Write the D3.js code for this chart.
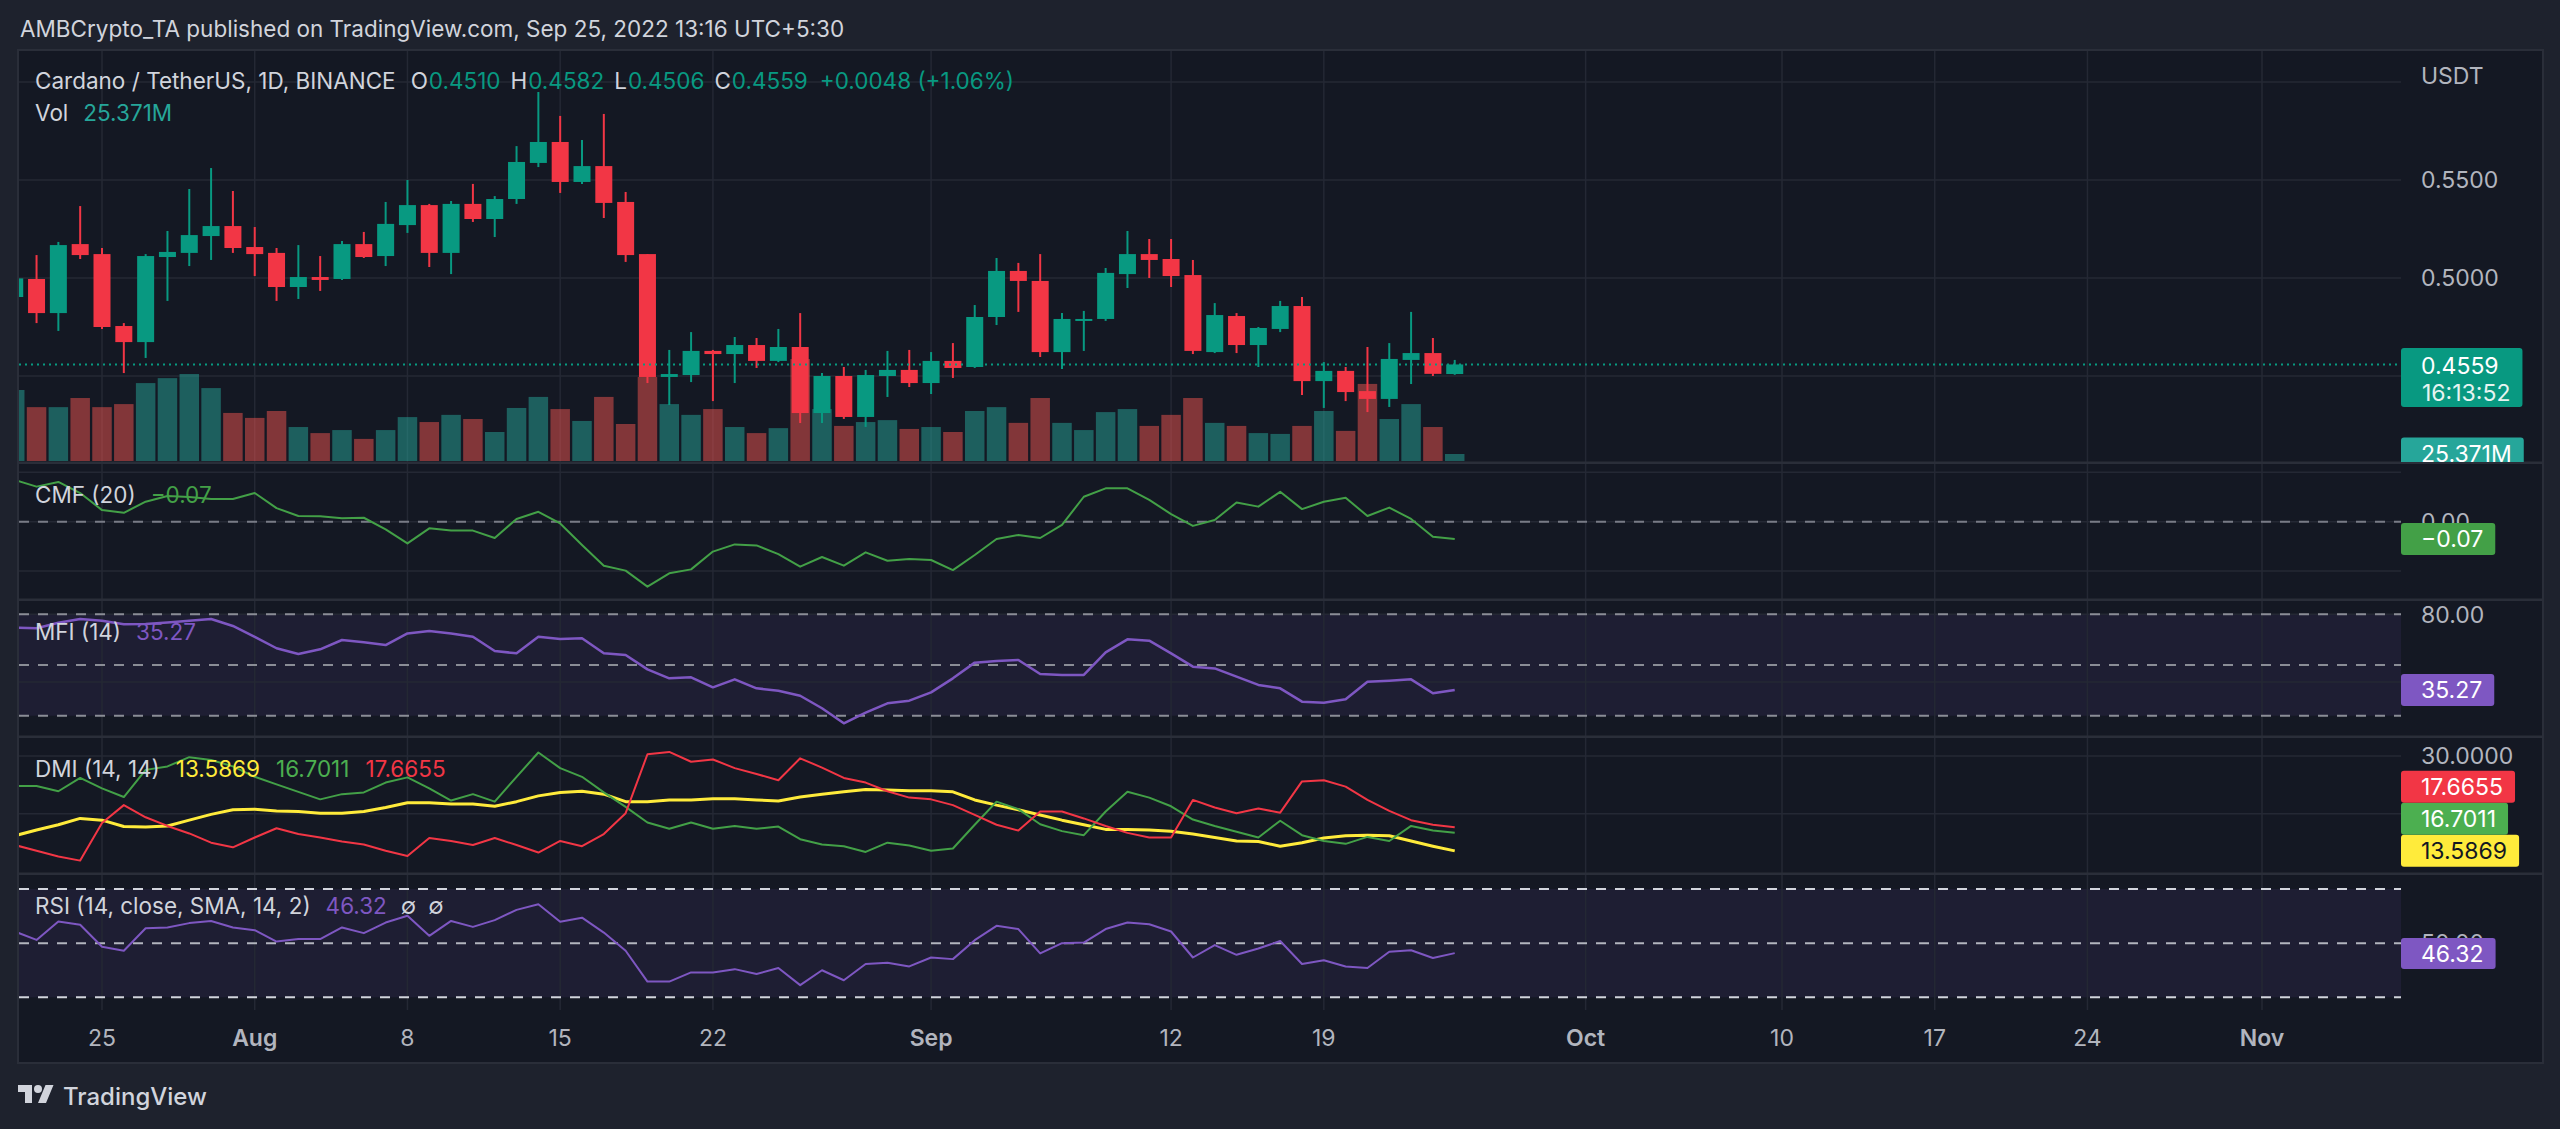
<!DOCTYPE html>
<html><head><meta charset="utf-8">
<script src="https://cdn.jsdelivr.net/npm/d3@7"></script>
<style>
html,body{margin:0;padding:0;background:#1e222d;overflow:hidden}
svg{display:block}
text{font-family:Inter,"Noto Sans","DejaVu Sans",sans-serif}
</style>
</head><body>
<svg id="c" width="2560" height="1129"></svg>
<script>
// ---------------- DATA ----------------
const startDate = "2022-07-21"; // first (partially visible) daily candle
const opens  = [0.4903,0.4995,0.4821,0.5173,0.5122,0.4755,0.4673,0.5107,0.5128,0.5214,0.5265,0.5158,0.5128,0.4954,0.5005,0.4995,0.5173,0.5112,0.5270,0.5372,0.5128,0.5378,0.5301,0.5403,0.5587,0.5694,0.5490,0.5571,0.5388,0.5122,0.4495,0.4505,0.4628,0.4612,0.4658,0.4577,0.4648,0.4311,0.4500,0.4291,0.4500,0.4531,0.4464,0.4577,0.4546,0.4801,0.5036,0.4985,0.4622,0.4786,0.4791,0.5020,0.5122,0.5097,0.5015,0.4622,0.4806,0.4658,0.4740,0.4857,0.4474,0.4526,0.4423,0.4383,0.4582,0.4617,0.4510];
const highs  = [0.5030,0.5117,0.5184,0.5367,0.5153,0.4770,0.5122,0.5240,0.5454,0.5561,0.5444,0.5260,0.5153,0.5168,0.5112,0.5189,0.5235,0.5388,0.5500,0.5378,0.5393,0.5480,0.5418,0.5673,0.5949,0.5827,0.5704,0.5837,0.5439,0.5122,0.4633,0.4724,0.4633,0.4699,0.4694,0.4740,0.4821,0.4515,0.4546,0.4531,0.4628,0.4633,0.4622,0.4668,0.4862,0.5102,0.5077,0.5122,0.4821,0.4832,0.5051,0.5240,0.5199,0.5199,0.5092,0.4872,0.4821,0.4750,0.4883,0.4903,0.4571,0.4546,0.4648,0.4668,0.4827,0.4694,0.4582];
const lows   = [0.4880,0.4770,0.4730,0.5097,0.4740,0.4515,0.4592,0.4883,0.5061,0.5092,0.5128,0.5010,0.4883,0.4893,0.4934,0.4990,0.5102,0.5061,0.5230,0.5056,0.5020,0.5286,0.5209,0.5378,0.5566,0.5434,0.5480,0.5306,0.5082,0.4464,0.4352,0.4469,0.4372,0.4464,0.4541,0.4571,0.4260,0.4260,0.4281,0.4240,0.4393,0.4444,0.4408,0.4490,0.4541,0.4760,0.4827,0.4597,0.4536,0.4628,0.4781,0.4949,0.5000,0.4954,0.4612,0.4617,0.4617,0.4546,0.4724,0.4403,0.4337,0.4372,0.4316,0.4342,0.4459,0.4500,0.4506];
const closes = [0.4998,0.4821,0.5168,0.5117,0.4750,0.4673,0.5112,0.5133,0.5219,0.5265,0.5153,0.5122,0.4954,0.5005,0.4990,0.5173,0.5107,0.5276,0.5372,0.5128,0.5378,0.5301,0.5403,0.5592,0.5694,0.5490,0.5571,0.5383,0.5117,0.4495,0.4510,0.4628,0.4612,0.4658,0.4577,0.4648,0.4311,0.4500,0.4291,0.4505,0.4531,0.4464,0.4577,0.4541,0.4801,0.5036,0.4985,0.4622,0.4791,0.4791,0.5026,0.5122,0.5092,0.5010,0.4628,0.4811,0.4658,0.4745,0.4857,0.4474,0.4526,0.4418,0.4383,0.4587,0.4617,0.4511,0.4559];
// volume in millions USDT
const volumes = [257,195,195,228,195,206,282,300,315,264,174,156,181,123,101,112,80,112,159,141,167,152,105,192,232,188,145,232,134,304,206,167,188,123,101,119,369,188,127,141,148,116,123,105,181,195,138,228,138,112,177,188,127,167,228,138,127,101,98,127,181,109,279,152,206,123,25.371];
const cmf = [0.169,0.142,0.161,0.116,0.047,0.036,0.081,0.104,0.100,0.092,0.092,0.116,0.055,0.023,0.022,0.014,0.016,-0.031,-0.088,-0.027,-0.036,-0.036,-0.066,0.011,0.040,-0.007,-0.094,-0.178,-0.198,-0.263,-0.209,-0.193,-0.121,-0.092,-0.096,-0.131,-0.182,-0.143,-0.178,-0.124,-0.158,-0.151,-0.155,-0.196,-0.135,-0.070,-0.054,-0.066,-0.013,0.101,0.135,0.135,0.088,0.031,-0.017,0.007,0.078,0.061,0.121,0.051,0.081,0.097,0.023,0.057,0.011,-0.061,-0.0700];
const mfi = [72.1,71.7,75.0,77.2,76.2,74.1,74.3,75.2,76.2,77.2,73.1,66.7,59.9,56.5,59.3,64.8,63.4,61.8,68.7,70.1,68.7,66.7,58.3,56.9,66.7,65.4,65.8,56.9,55.9,47.4,42.1,42.7,36.8,41.5,36.2,34.8,31.8,24.4,15.5,21.8,27.3,28.9,33.8,42.1,51.4,52.4,53.0,44.7,44.1,44.1,57.5,65.2,64.4,56.9,49.0,48.0,43.1,38.2,36.2,28.3,27.7,29.7,40.1,40.7,41.5,33.3,35.27];
const plusDI = [24.8,24.8,23.9,26.2,24.4,22.9,27.6,28.2,29.8,29.3,28.2,26.4,25.1,23.8,22.5,23.4,23.7,25.4,26.3,24.4,22.3,23.4,22.1,26.4,30.6,27.9,26.4,23.7,21.2,18.5,17.4,18.5,17.4,17.9,17.4,17.8,15.6,14.7,14.4,13.4,15.0,14.5,13.6,14.0,18.1,22.1,20.8,18.2,17.0,16.3,20.4,23.8,22.8,21.3,19.0,17.9,16.9,15.9,18.8,16.3,15.3,14.8,16.0,15.3,17.9,17.1,16.7011];
const minusDI = [14.6,13.6,12.6,11.9,18.4,21.5,19.4,17.9,16.6,15.0,14.2,15.9,17.5,16.5,15.9,15.2,14.7,13.6,12.7,15.8,15.3,14.6,15.8,14.6,13.3,15.3,14.4,16.5,20.1,30.3,30.7,29.0,29.4,27.9,26.9,25.8,29.6,28.0,26.2,25.4,23.9,22.8,22.5,21.5,19.8,18.1,17.1,20.4,20.4,19.2,17.9,16.7,15.9,15.9,22.4,21.1,20.1,20.9,20.2,25.6,25.8,24.7,22.4,20.5,18.9,18.1,17.6655];
const adx = [16.2,17.2,18.1,19.2,18.9,17.8,17.7,17.9,18.9,19.9,20.7,20.8,20.5,20.4,20.1,20.1,20.4,21.1,21.9,21.9,21.7,21.7,21.3,22.1,23.1,23.7,23.9,23.4,22.1,22.1,22.4,22.4,22.6,22.6,22.4,22.2,22.9,23.4,23.8,24.2,24.1,24.0,24.0,23.8,22.4,21.5,20.7,19.8,18.9,18.1,17.3,17.3,17.2,17.0,16.5,15.9,15.3,15.2,14.4,15.0,15.8,16.2,16.3,16.2,15.3,14.4,13.5869];
const rsi = [54.3,51.2,58.0,56.8,48.7,47.2,55.5,55.8,57.4,58.2,55.8,54.8,50.6,51.5,51.5,55.8,53.7,57.6,60.1,52.7,58.2,56.0,58.5,62.3,64.4,57.9,59.4,53.9,47.2,35.8,35.8,39.2,39.2,40.4,38.6,40.8,34.5,40.0,36.3,42.3,42.8,41.4,44.7,44.1,51.1,56.4,55.2,46.2,50.0,50.2,55.2,57.6,57.0,54.3,44.7,49.3,45.7,48.0,50.8,42.3,43.7,41.4,40.8,46.8,47.4,44.5,46.32];
const tickDates  = ["2022-07-25","2022-08-01","2022-08-08","2022-08-15","2022-08-22","2022-09-01","2022-09-12","2022-09-19","2022-10-01","2022-10-10","2022-10-17","2022-10-24","2022-11-01"];
const tickLabels = ["25","Aug","8","15","22","Sep","12","19","Oct","10","17","24","Nov"];
const priceGrid  = [0.45,0.50,0.55,0.60];
const priceTicks = [0.55,0.50];
const cmfGrid = [0.2,0,-0.2];
const mfiGrid = [40,80];
const dmiGrid = [20,30];

// ---------------- LAYOUT ----------------
const svg = d3.select("#c");
const plotL=19, plotR=2401, axisR=2542, frameT=51, frameB=1062;
const panes = {main:[51,462], cmf:[464,599], mfi:[601,736], dmi:[738,873], rsi:[875,1010]};
const C = {bg:"#141823", outer:"#1e222d", grid:"#242834", border:"#2a2e39", text:"#d1d4dc", axis:"#b2b5be",
  up:"#089981", down:"#f23645", volUp:"#26a69a", volDown:"#ef5350", green:"#43a047", green2:"#4caf50",
  purple:"#7e57c2", yellow:"#ffeb3b", red:"#f23645"};

const parse = d3.utcParse("%Y-%m-%d");
const start = parse(startDate);
const dates = opens.map((_,i)=>d3.utcDay.offset(start,i));
const x = d3.scaleUtc().domain([parse("2022-07-25"), parse("2022-11-01")]).range([102,2262]);
const yP = d3.scaleLinear().domain([0.45,0.55]).range([376,180]);
const yV = d3.scaleLinear().domain([0,400]).range([461,350.5]);
const yC = d3.scaleLinear().domain([-0.2,0.2]).range([571.1,472.3]);
const yM = d3.scaleLinear().domain([20,80]).range([715.7,614.3]);
const yD = d3.scaleLinear().domain([20,30]).range([813.8,756]);
const yR = d3.scaleLinear().domain([30,70]).range([997.3,889]);

// backgrounds
svg.append("rect").attr("width",2560).attr("height",1129).attr("fill",C.outer);
svg.append("rect").attr("x",plotL-1).attr("y",frameT-1).attr("width",axisR-plotL+2).attr("height",frameB-frameT+2)
  .attr("fill",C.bg).attr("stroke",C.border).attr("stroke-width",2);

// clip paths
const defs = svg.append("defs");
Object.entries(panes).forEach(([k,[t,b]])=>{
  defs.append("clipPath").attr("id","clip-"+k).append("rect").attr("x",plotL).attr("y",t).attr("width",plotR-plotL).attr("height",b-t);
});
defs.append("clipPath").attr("id","clip-mainaxis").append("rect").attr("x",plotR).attr("y",panes.main[0]).attr("width",axisR-plotR).attr("height",panes.main[1]-panes.main[0]);

// band fills
const gBand = svg.append("g");
gBand.append("rect").attr("x",plotL).attr("width",plotR-plotL).attr("y",yM(80)).attr("height",yM(20)-yM(80)).attr("fill",C.purple).attr("fill-opacity",0.1);
gBand.append("rect").attr("x",plotL).attr("width",plotR-plotL).attr("y",yR(70)).attr("height",yR(30)-yR(70)).attr("fill",C.purple).attr("fill-opacity",0.1);

// vertical grid
const gGrid = svg.append("g").attr("stroke",C.grid).attr("stroke-width",1.5);
tickDates.forEach(d=>{
  const xx = x(parse(d));
  gGrid.append("line").attr("x1",xx).attr("x2",xx).attr("y1",frameT).attr("y2",1010);
});
// horizontal grids
priceGrid.forEach(v=>gGrid.append("line").attr("x1",plotL).attr("x2",plotR).attr("y1",yP(v)).attr("y2",yP(v)));
cmfGrid.forEach(v=>gGrid.append("line").attr("x1",plotL).attr("x2",plotR).attr("y1",yC(v)).attr("y2",yC(v)));
mfiGrid.forEach(v=>gGrid.append("line").attr("x1",plotL).attr("x2",plotR).attr("y1",yM(v)).attr("y2",yM(v)));
dmiGrid.forEach(v=>gGrid.append("line").attr("x1",plotL).attr("x2",plotR).attr("y1",yD(v)).attr("y2",yD(v)));

// pane dividers
[462.5, 599.5, 736.5, 873.5].forEach(y=>{
  svg.append("rect").attr("x",plotL).attr("y",y-1).attr("width",axisR-plotL).attr("height",2.5).attr("fill",C.border);
});

// ---------------- MAIN PANE ----------------
const gMain = svg.append("g").attr("clip-path","url(#clip-main)");
// volume
gMain.selectAll("rect.vol").data(volumes).join("rect").attr("class","vol")
  .attr("x",(d,i)=>x(dates[i])-9.75).attr("width",19.5)
  .attr("y",d=>yV(d)).attr("height",d=>yV(0)-yV(d))
  .attr("fill",(d,i)=>closes[i]>=opens[i]?C.volUp:C.volDown).attr("fill-opacity",0.5);
// candles
const cg = gMain.selectAll("g.c").data(opens).join("g").attr("class","c");
cg.append("line").attr("x1",(d,i)=>x(dates[i])).attr("x2",(d,i)=>x(dates[i]))
  .attr("y1",(d,i)=>yP(highs[i])).attr("y2",(d,i)=>yP(lows[i]))
  .attr("stroke",(d,i)=>closes[i]>=opens[i]?C.up:C.down).attr("stroke-width",2);
cg.append("rect").attr("x",(d,i)=>x(dates[i])-8.5).attr("width",17)
  .attr("y",(d,i)=>yP(Math.max(opens[i],closes[i])))
  .attr("height",(d,i)=>Math.max(2,Math.abs(yP(opens[i])-yP(closes[i]))))
  .attr("fill",(d,i)=>closes[i]>=opens[i]?C.up:C.down);
// last price dotted line
const last = closes.length-1;
svg.append("line").attr("x1",plotL).attr("x2",plotR).attr("y1",yP(closes[last])).attr("y2",yP(closes[last]))
  .attr("stroke",C.up).attr("stroke-width",2).attr("stroke-dasharray","2,4");

// ---------------- INDICATORS ----------------
function drawLine(data, y, color, width, pane){
  svg.append("path").attr("clip-path",`url(#clip-${pane})`)
    .attr("d", d3.line().x((d,i)=>x(dates[i])).y(d=>y(d))(data))
    .attr("fill","none").attr("stroke",color).attr("stroke-width",width).attr("stroke-linejoin","round");
}
function dashed(y, color){
  svg.append("line").attr("x1",plotL).attr("x2",plotR).attr("y1",y).attr("y2",y)
    .attr("stroke",color).attr("stroke-width",2).attr("stroke-dasharray","10,9");
}
dashed(yC(0), "#787b86");
dashed(yM(80), "#8a8d96"); dashed(yM(50), "#8a8d96"); dashed(yM(20), "#8a8d96");
dashed(yR(70), "#d1d4dc"); dashed(yR(50), "#b2b5be"); dashed(yR(30), "#d1d4dc");

drawLine(cmf, yC, C.green, 2, "cmf");
drawLine(mfi, yM, C.purple, 2.5, "mfi");
drawLine(adx, yD, C.yellow, 3, "dmi");
drawLine(plusDI, yD, C.green, 2, "dmi");
drawLine(minusDI, yD, C.red, 2, "dmi");
drawLine(rsi, yR, C.purple, 2, "rsi");

// ---------------- TEXT ----------------
// header
svg.append("text").attr("x",20).attr("y",37).attr("font-size",22.5).attr("fill",C.text)
  .text("AMBCrypto_TA published on TradingView.com, Sep 25, 2022 13:16 UTC+5:30");

function legend(y, parts){
  const t = svg.append("text").attr("x",35).attr("y",y).attr("font-size",22.5).attr("fill",C.text);
  parts.forEach(p=>{
    const s = t.append("tspan").text(p.t).attr("fill",p.c||C.text);
    if(p.dx) s.attr("dx",p.dx);
  });
  return t;
}
const f4 = d3.format(".4f");
const chg = closes[last]-closes[last-1];
const pct = chg/closes[last-1]*100;
const sgn = v=>(v>=0?"+":"−");
legend(89,[
  {t:"Cardano / TetherUS, 1D, BINANCE"},
  {t:"O",dx:15},{t:f4(opens[last]),c:C.up,dx:1},
  {t:"H",dx:10},{t:f4(highs[last]),c:C.up,dx:1},
  {t:"L",dx:10},{t:f4(lows[last]),c:C.up,dx:1},
  {t:"C",dx:10},{t:f4(closes[last]),c:C.up,dx:1},
  {t:sgn(chg)+f4(Math.abs(chg))+" ("+sgn(pct)+Math.abs(pct).toFixed(2)+"%)",c:C.up,dx:12}
]);
legend(121,[{t:"Vol"},{t:d3.format(".3f")(volumes[last])+"M",c:C.volUp,dx:15}]);
const fmt2 = v=>(v<0?"−":"")+Math.abs(v).toFixed(2);
legend(503,[{t:"CMF (20)"},{t:fmt2(cmf[last]),c:C.green,dx:15}]);
legend(640,[{t:"MFI (14)"},{t:fmt2(mfi[last]),c:C.purple,dx:15}]);
legend(777,[{t:"DMI (14, 14)"},{t:f4(adx[last]),c:C.yellow,dx:16},{t:f4(plusDI[last]),c:C.green2,dx:16},{t:f4(minusDI[last]),c:C.red,dx:16}]);
legend(914,[{t:"RSI (14, close, SMA, 14, 2)"},{t:fmt2(rsi[last]),c:C.purple,dx:15},{t:"∅",c:C.text,dx:14},{t:"∅",c:C.text,dx:12}]);

// ---------------- RIGHT AXIS ----------------
const ax = svg.append("g").attr("font-size",23);
const axText = (y,s)=>ax.append("text").attr("x",2421).attr("y",y+8.3).attr("fill",C.axis).text(s);
ax.append("text").attr("x",2421).attr("y",84).attr("fill",C.axis).text("USDT");
priceTicks.forEach(v=>axText(yP(v), v.toFixed(4)));
axText(yC(0), "0.00");
axText(yM(80), "80.00");
axText(yD(30), "30.0000");
axText(yR(50), "50.00");

function box(yc, txt, fill, txtColor, h, opts={}){
  const g = (opts.clip? svg.append("g").attr("clip-path",opts.clip) : svg.append("g"));
  const rect = g.append("rect").attr("x",plotR).attr("y",yc-h/2).attr("height",h).attr("fill",fill).attr("rx",3);
  const t = g.append("text").attr("x",2421).attr("y",yc+8.3).attr("font-size",23).attr("fill",txtColor).text(txt);
  const w = t.node().getComputedTextLength();
  rect.attr("width", 20+w+ (opts.pad||12));
  return g;
}
// price label (two lines)
(function(){
  const yc = yP(closes[last]);
  const g = svg.append("g");
  const r = g.append("rect").attr("x",plotR).attr("y",348).attr("height",59).attr("fill",C.up).attr("rx",3);
  g.append("text").attr("x",2421).attr("y",yc+9.5).attr("font-size",23).attr("fill","#ffffff").text(f4(closes[last]));
  const t2 = g.append("text").attr("x",2422).attr("y",yc+36.5).attr("font-size",23).attr("fill","#e6f4f1").text("16:13:52");
  r.attr("width",20+t2.node().getComputedTextLength()+13);
})();
box(yV(volumes[last])-0.5, d3.format(".3f")(volumes[last])+"M", C.volUp, "#ffffff", 32, {clip:"url(#clip-mainaxis)"});
box(yC(cmf[last]), fmt2(cmf[last]), C.green, "#ffffff", 32);
box(yM(mfi[last]), fmt2(mfi[last]), C.purple, "#ffffff", 32);
// DMI labels stacked upward to avoid overlap
(function(){
  const items = [
    {v:adx[last], c:C.yellow, tc:"#131722"},
    {v:plusDI[last], c:C.green2, tc:"#ffffff"},
    {v:minusDI[last], c:C.red, tc:"#ffffff"}
  ].map(d=>({...d, y:yD(d.v)})).sort((a,b)=>b.y-a.y);
  let prevTop = Infinity;
  items.forEach(d=>{
    let yc = d.y;
    if(yc+16 > prevTop) yc = prevTop-16;
    prevTop = yc-16;
    box(yc, f4(d.v), d.c, d.tc, 32);
  });
})();
box(yR(rsi[last])+0.5, fmt2(rsi[last]), C.purple, "#ffffff", 31);

// ---------------- X AXIS ----------------
const xa = svg.append("g").attr("font-size",23).attr("text-anchor","middle");
tickDates.forEach((d,i)=>{
  const isMonth = isNaN(+tickLabels[i]);
  xa.append("text").attr("x",x(parse(d))).attr("y",1046).attr("fill",C.axis)
    .attr("font-weight",isMonth?600:400).text(tickLabels[i]);
});

// ---------------- LOGO ----------------
const logo = svg.append("g").attr("transform","translate(18,1081)").attr("fill","#d1d4dc");
logo.append("path").attr("d","M14 22H7V11H0V4h14v18zM28 22h-8l7.5-18h8L28 22z");
logo.append("circle").attr("cx",20).attr("cy",8).attr("r",4);
svg.append("text").attr("x",63).attr("y",1105).attr("font-size",24).attr("font-weight",500).attr("fill","#d1d4dc").text("TradingView");
</script>
</body></html>
